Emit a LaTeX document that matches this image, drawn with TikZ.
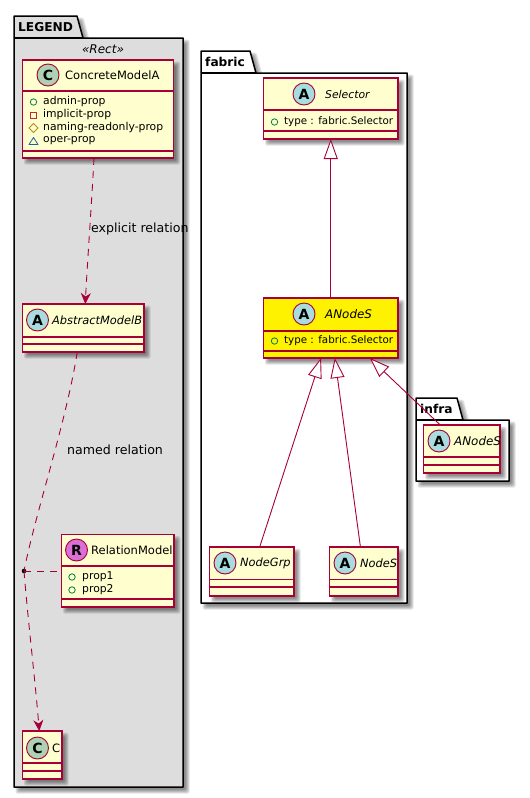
\documentclass[tikz,border=0pt]{standalone}
\usepackage{fontspec}
\setmainfont{DejaVu Sans}
\usetikzlibrary{arrows.meta,calc}
\definecolor{umlred}{HTML}{A80036}
\definecolor{umlbg}{HTML}{FEFECE}
\definecolor{legendbg}{HTML}{DDDDDD}
\definecolor{spotc}{HTML}{ADD1B2}
\definecolor{spota}{HTML}{A9DCDF}
\definecolor{spotr}{HTML}{DA70D6}
\definecolor{icongreen}{HTML}{038048}
\definecolor{iconred}{HTML}{C82930}
\definecolor{iconyellow}{HTML}{B38D22}
\definecolor{iconblue}{HTML}{1963A0}
\tikzset{
  umlbox/.style={draw=umlred,line width=1.15pt,rectangle,inner sep=0pt,outer sep=0pt},
  comp/.style={draw=umlred,line width=1.1pt},
  spot/.style={circle,draw=umlred,line width=.9pt,minimum size=22pt,inner sep=0pt,font=\fontsize{14}{14}\selectfont\bfseries},
  cname/.style={anchor=west,inner sep=0pt,font=\fontsize{11.5}{13}\selectfont},
  aname/.style={anchor=west,inner sep=0pt,font=\fontsize{11.4}{13}\selectfont\itshape},
  member/.style={anchor=west,inner sep=0pt,font=\fontsize{10.8}{12}\selectfont},
  typemember/.style={anchor=west,inner sep=0pt,font=\fontsize{10.3}{12}\selectfont},
  pkgname/.style={anchor=west,inner sep=0pt,font=\fontsize{12.2}{14}\selectfont\bfseries},
  lab/.style={anchor=west,inner sep=0pt,font=\fontsize{12.6}{14}\selectfont},
  rel/.style={draw=umlred,line width=.9pt},
  reldash/.style={rel,dash pattern=on 7pt off 6pt},
  gen/.style={rel,-{Triangle[length=20pt,width=14pt,fill=white]}},
  dep/.style={reldash,-{Stealth[length=11pt,width=10pt,inset=3.5pt]}},
}
\newcommand\softrect[4]{%
  \foreach \s in {-1.5,-.5,.5,1.5,2.5}{%
    \fill[black,opacity=.11,rounded corners=1.5pt] (#1+4-\s,#2+4-\s) rectangle (#3+4+\s,#4+4+\s);}%
}
\newcommand\classbox[6]{%
  \softrect{#2}{#3}{#4}{#5}%
  \pgfmathsetmacro\bw{#4-#2}\pgfmathsetmacro\bh{#5-#3}%
  \node[umlbox,fill=#6,minimum width=\bw pt,minimum height=\bh pt] (#1) at ({(#2+#4)/2},{(#3+#5)/2}) {};%
}
\newcommand\compline[3]{\draw[comp] (#1,#3) -- (#2,#3);}
\newcommand\package[9]{%
  \foreach \s in {-1.5,-.5,.5,1.5,2.5}{%
    \fill[black,opacity=.11,rounded corners=1.5pt] (#2+4-\s,#6+4-\s) -- (#7+4+\s,#6+4-\s) -- (#8+4+\s,#3+4-\s) -- (#4+4+\s,#3+4-\s) -- (#4+4+\s,#5+4+\s) -- (#2+4-\s,#5+4+\s) -- cycle;}%
  \draw[black,line width=1.5pt,fill=#9,line join=round] (#2,#3) -- (#2,#6) -- (#7,#6) -- (#8,#3) -- (#4,#3) -- (#4,#5) -- (#2,#5) -- cycle;%
  \draw[black,line width=1.5pt] (#2,#3) -- (#8,#3);%
}
\newcommand\icircle[2]{\draw[icongreen,line width=.8pt] (#1,#2) circle (3.2);}
\begin{document}
\begin{tikzpicture}[x=1pt,y=-1pt]
\useasboundingbox (0,0) rectangle (530,798);
\fill[white] (0,0) rectangle (530,798);

% packages
\package{legend}{14}{38}{183}{787}{16}{77}{83}{legendbg}
\node[pkgname] (legendname) at (18,27) {LEGEND};
\node[inner sep=0pt,font=\fontsize{12}{13}\selectfont\itshape] (legendst) at (103,49) {«Rect»};
\package{fabric}{201}{73}{407}{603}{51}{250}{256}{white}
\node[pkgname] (fabricname) at (205,62) {fabric};
\package{infra}{416}{420}{509}{481}{398}{457}{463}{white}
\node[pkgname] (infraname) at (420,409) {infra};

% ConcreteModelA
\classbox{cma}{22.5}{60}{173.5}{158}{umlbg}
\compline{22.5}{173.5}{91}\compline{22.5}{173.5}{151}
\node[spot,fill=spotc] (cmaspot) at (48,75) {C};
\node[cname] (cmaname) at (65,75.5) {ConcreteModelA};
\icircle{33.5}{102}
\node[member] (m1) at (43,102) {admin-prop};
\draw[iconred,line width=.8pt] (30.5,112) rectangle (36.5,118);
\node[member] (m2) at (43,115) {implicit-prop};
\draw[iconyellow,line width=.8pt] (33.5,123.5) -- (38,128) -- (33.5,132.5) -- (29,128) -- cycle;
\node[member] (m3) at (43,128) {naming-readonly-prop};
\draw[iconblue,line width=.8pt,line join=round] (33.5,137.5) -- (38,144.5) -- (29,144.5) -- cycle;
\node[member] (m4) at (43,141) {oper-prop};

% AbstractModelB
\classbox{amb}{22.5}{304}{144}{352}{umlbg}
\compline{22.5}{144}{337}\compline{22.5}{144}{344}
\node[spot,fill=spota] (ambspot) at (37.5,320) {A};
\node[aname] (ambname) at (52,320.5) {AbstractModelB};

% RelationModel
\classbox{rm}{61.5}{534.5}{174}{607}{umlbg}
\compline{61.5}{174}{566}\compline{61.5}{174}{599}
\node[spot,fill=spotr] (rmspot) at (76.5,550) {R};
\node[cname] (rmname) at (91,550.5) {RelationModel};
\icircle{72}{577}
\node[member] (r1) at (82,577) {prop1};
\icircle{72}{590}
\node[member] (r2) at (82,590) {prop2};

% C
\classbox{cc}{22.5}{731}{62}{779}{umlbg}
\compline{22.5}{62}{763}\compline{22.5}{62}{771}
\node[spot,fill=spotc] (ccspot) at (37.5,748) {C};
\node[cname] (ccname) at (52,748.5) {C};

% Selector
\classbox{sel}{263.5}{78}{398}{139}{umlbg}
\compline{263.5}{398}{110}\compline{263.5}{398}{131}
\node[spot,fill=spota] (selspot) at (304,94) {A};
\node[aname,font=\fontsize{10.8}{13}\selectfont\itshape] (selname) at (325,94.5) {Selector};
\icircle{274.5}{122}
\node[typemember] (s1) at (284,121.5) {type : fabric.Selector};

% ANodeS yellow
\classbox{ans}{263.5}{298}{398}{358}{yellow}
\compline{263.5}{398}{331}\compline{263.5}{398}{351}
\node[spot,fill=spota] (ansspot) at (304,314) {A};
\node[aname,font=\fontsize{11.9}{13}\selectfont\itshape] (ansname) at (325,314.5) {ANodeS};
\icircle{274.5}{341}
\node[typemember] (a1) at (284,340.5) {type : fabric.Selector};

% NodeGrp
\classbox{ngrp}{209.5}{547}{294}{596}{umlbg}
\compline{209.5}{294}{579.5}\compline{209.5}{294}{587}
\node[spot,fill=spota] (ngrpspot) at (225,563) {A};
\node[aname] (ngrpname) at (240,563.5) {NodeGrp};

% NodeS
\classbox{ns}{329.5}{547}{398}{596}{umlbg}
\compline{329.5}{398}{579.5}\compline{329.5}{398}{587}
\node[spot,fill=spota] (nsspot) at (345,563) {A};
\node[aname] (nsname) at (360,563.5) {NodeS};

% infra ANodeS
\classbox{ians}{423.5}{425}{500}{473}{umlbg}
\compline{423.5}{500}{457}\compline{423.5}{500}{465}
\node[spot,fill=spota] (iansspot) at (439,441) {A};
\node[aname,font=\fontsize{11.9}{13}\selectfont\itshape] (iansname) at (454,441.5) {ANodeS};

% relations
\draw[gen] (ans.north) -- (sel.south);
\draw[gen] (ngrp) -- (ans);
\draw[gen] (ns) -- (ans);
\draw[gen] ([xshift=-21.5pt]ians.north) -- ([xshift=39pt]ans.south);
\draw[dep] ([xshift=-4pt]cma.south) .. controls +(-2,40) and +(2,-40) .. ([xshift=2pt]amb.north);
\node[circle,fill=black,inner sep=0pt,minimum size=4.6pt] (dot) at (24,571) {};
\draw[reldash] ([xshift=-6pt]amb.south) .. controls +(-11,70) and +(12,-60) .. (dot.center);
\draw[dep] (dot.center) .. controls +(4,50) and +(-4,-50) .. ([xshift=-3pt]cc.north);
\draw[reldash] (dot.center) -- (dot.center -| rm.west);
\node[lab] (lab1) at (91,229) {explicit relation};
\node[lab] (lab2) at (67,450) {named relation};
\end{tikzpicture}
\end{document}
